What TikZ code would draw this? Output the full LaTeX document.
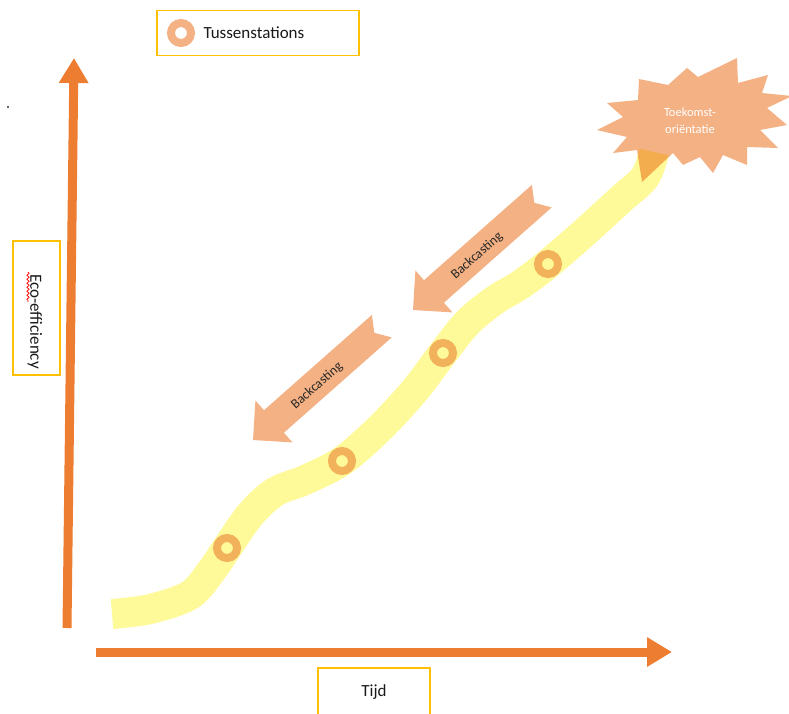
\documentclass[tikz,border=0pt]{standalone}
\usepackage{fontspec}
\setmainfont{Carlito}
\usetikzlibrary{arrows.meta,decorations.pathmorphing}

\definecolor{axisorange}{HTML}{ED7D31}
\definecolor{boxyellow}{HTML}{FFC000}
\definecolor{salmon}{HTML}{F4B183}
\definecolor{ringorange}{HTML}{F2B25C}

\tikzset{
  axis/.style={draw=axisorange, line width=9pt,
    -{Triangle[length=25pt,width=28pt]}},
  labelbox/.style={draw=boxyellow, line width=1.8pt, fill=white, inner sep=0pt},
  ring/.style={circle, draw=#1, line width=8pt, minimum size=20pt, inner sep=0pt},
  band/.style={draw=yellow, draw opacity=0.4, line width=30pt, line cap=butt, line join=round},
  blockarrow/.style={fill=salmon},
  arrowtext/.style={font=\fontsize{13.5}{16}\selectfont, text=black!85, rotate=41.5},
  labeltext/.style={font=\fontsize{17}{20}\selectfont, text=black!90},
}

\begin{document}
\begin{tikzpicture}[x=1pt, y=-1pt]
  \useasboundingbox (0,0) rectangle (789,713);

  % stray mark
  \fill[black!80] (8,107) circle (1.2);

  % legend
  \node[labelbox, minimum width=202pt, minimum height=45pt] (legendbox) at (258,33) {};
  \node[ring=salmon] (legendring) at (181,33) {};
  \node[labeltext, anchor=west] (legendtext) at (200,33) {Tussenstations};

  % axes
  \coordinate (yfoot) at (67,628);
  \coordinate (ytip) at (74,58);
  \coordinate (xfoot) at (96,652);
  \coordinate (xtip) at (672,652);
  \draw[axis] (yfoot) -- (ytip);
  \draw[axis] (xfoot) -- (xtip);

  % axis labels
  \node[labelbox, minimum width=47pt, minimum height=134pt] (ybox) at (36.5,308) {};
  \node[labeltext, rotate=-90] (ylabel) at (35,321.5) {Eco-efficiency};
  \draw[red, line width=0.7pt, decorate,
        decoration={snake, amplitude=1.2pt, segment length=4pt}] (28,272) -- (28,302);
  \node[labelbox, minimum width=112pt, minimum height=48pt] (xbox) at (374,692) {};
  \node[labeltext] (xlabel) at (374,692) {Tijd};

  % future orientation burst
  \fill[salmon] (597,130) -- (623,117) -- (607,103) -- (638,100) -- (639,79)
    -- (668,85) -- (687,68) -- (698,77) -- (737,58) -- (738,83) -- (768,75)
    -- (762,93) -- (792,96) -- (767,108) -- (787,125) -- (760,130)
    -- (778,148) -- (747,147) -- (747,165) -- (723,155) -- (713,173) -- (700,157)
    -- (683,165) -- (673,153) -- (642,182) -- (637,150) -- (613,153)
    -- (627,137) -- cycle;
  \node[text=white, align=center, font=\fontsize{12.5}{17}\selectfont] (future)
    at (690,121) {Toekomst-\\oriëntatie};

  % development path
  \begin{scope}[blend mode=multiply]
    \draw[band] plot[smooth, tension=0.55] coordinates {
      (112,614) (150,609) (190,595) (212,570) (227,548) (250,515) (275,492)
      (305,480) (342,461) (380,428) (415,390) (443,353) (468,322) (495,300)
      (520,285) (548,264) (585,232) (620,200) (645,177) (654,152)};
  \end{scope}

  % intermediate stations
  \node[ring=ringorange] (st1) at (227,548) {};
  \node[ring=ringorange] (st2) at (342,461) {};
  \node[ring=ringorange] (st3) at (443,353) {};
  \node[ring=ringorange] (st4) at (548,264) {};

  % backcasting arrows
  \fill[blockarrow] (413,310) -- (415.4,270.5) -- (424.0,280.2) -- (531.9,184.9)
    -- (534.3,202.8) -- (551.7,207.4) -- (443.9,302.7) -- (452.5,312.4) -- cycle;
  \node[arrowtext] (bc1) at (477,256) {Backcasting};
  \begin{scope}[shift={(-160,130)}]
    \fill[blockarrow] (413,310) -- (415.4,270.5) -- (424.0,280.2) -- (531.9,184.9)
      -- (534.3,202.8) -- (551.7,207.4) -- (443.9,302.7) -- (452.5,312.4) -- cycle;
    \node[arrowtext] (bc2) at (477,256) {Backcasting};
  \end{scope}
\end{tikzpicture}
\end{document}
